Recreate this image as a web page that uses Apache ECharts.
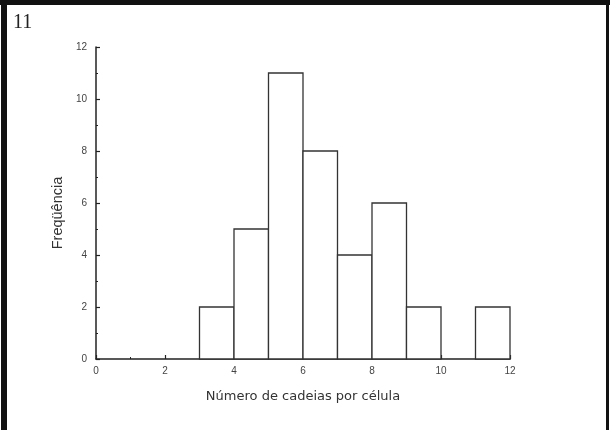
<!DOCTYPE html>
<html>
<head>
<meta charset="utf-8">
<script src="https://cdn.jsdelivr.net/npm/echarts@6/dist/echarts.min.js"></script>
<style>
  html, body { margin: 0; padding: 0; background: #fff; }
  #hist { width: 610px; height: 430px; }
</style>
</head>
<body>
<div id="hist"></div>
<script>
// classes do histograma
const binStart = [3, 4, 5, 6, 7, 8, 9, 11];
const binEnd = [4, 5, 6, 7, 8, 9, 10, 12];
const freq = [2, 5, 11, 8, 4, 6, 2, 2];
const xTicks = [0, 2, 4, 6, 8, 10, 12];
const yTicks = [0, 2, 4, 6, 8, 10, 12];

const axisColor = '#222';
const labelColor = '#444';

const binData = binStart.map((s, i) => [s, binEnd[i], freq[i]]);

const chart = echarts.init(document.getElementById('hist'));
chart.setOption({
  animation: false,
  grid: { left: 96, right: 100, top: 47, bottom: 71 },
  graphic: [
    // moldura preta
    { type: 'rect', shape: { x: 0, y: 0, width: 610, height: 5 }, style: { fill: '#111' } },
    { type: 'rect', shape: { x: 1, y: 0, width: 6, height: 430 }, style: { fill: '#111' } },
    { type: 'rect', shape: { x: 606, y: 0, width: 3, height: 430 }, style: { fill: '#111' } },
    {
      type: 'text', left: 13, top: 13,
      style: { text: '11', font: '20px "Liberation Serif", serif', fill: '#222' }
    },
    // titulo do eixo y (um pouco abaixo do centro, como no original)
    {
      type: 'text', x: 58, y: 213, rotation: Math.PI / 2,
      style: {
        text: 'Freqüência', font: '14.5px Arial', fill: '#333',
        align: 'center', verticalAlign: 'middle'
      }
    }
  ],
  xAxis: {
    type: 'value',
    min: xTicks[0],
    max: xTicks[xTicks.length - 1],
    interval: 2,
    name: 'Número de cadeias por célula',
    nameLocation: 'middle',
    nameGap: 31,
    nameTextStyle: { color: '#333', fontSize: 13, fontFamily: 'DejaVu Sans' },
    axisLine: { lineStyle: { color: axisColor, width: 1.5 } },
    axisTick: { inside: true, length: 4, lineStyle: { color: axisColor, width: 1.2 } },
    minorTick: { show: true, splitNumber: 2, length: 2, lineStyle: { color: axisColor } },
    axisLabel: { color: labelColor, fontSize: 10, fontFamily: 'Arial', margin: 7 },
    splitLine: { show: false }
  },
  yAxis: {
    type: 'value',
    min: yTicks[0],
    max: yTicks[yTicks.length - 1],
    interval: 2,
    axisLine: { show: true, lineStyle: { color: axisColor, width: 1.5 } },
    axisTick: { show: true, inside: true, length: 4, lineStyle: { color: axisColor, width: 1.2 } },
    minorTick: { show: true, splitNumber: 2, length: 2, lineStyle: { color: axisColor } },
    axisLabel: { color: labelColor, fontSize: 10, fontFamily: 'Arial', margin: 9 },
    splitLine: { show: false }
  },
  series: [
    {
      type: 'custom',
      data: binData,
      encode: { x: [0, 1], y: 2 },
      renderItem: function (params, api) {
        const topLeft = api.coord([api.value(0), api.value(2)]);
        const bottomRight = api.coord([api.value(1), 0]);
        return {
          type: 'rect',
          shape: {
            x: topLeft[0],
            y: topLeft[1],
            width: bottomRight[0] - topLeft[0],
            height: bottomRight[1] - topLeft[1]
          },
          style: { fill: '#fff', stroke: '#333', lineWidth: 1.3 }
        };
      }
    }
  ]
});
</script>
</body>
</html>
